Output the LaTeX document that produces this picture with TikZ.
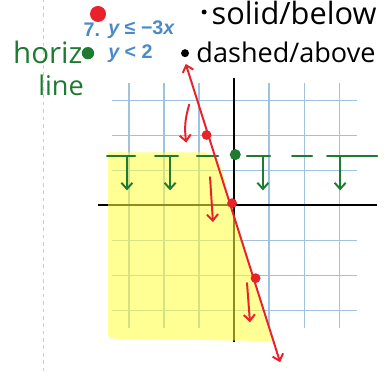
\documentclass[tikz,border=0pt]{standalone}
\usepackage{fontspec}
\setmainfont{Open Sans}
\newfontfamily\bookfont{Liberation Sans}
\usetikzlibrary{positioning, arrows.meta}
\definecolor{gridblue}{HTML}{9FC2DE}
\definecolor{bookblue}{HTML}{4A8AC6}
\definecolor{penred}{HTML}{E8212B}
\definecolor{pengreen}{HTML}{1F7A32}
\definecolor{hilite}{HTML}{FFFF3A}
\definecolor{margingray}{HTML}{CFCFCF}

\tikzset{
  pen/.style={line width=1.6pt, line cap=round, line join=round},
  barb/.style={-{Straight Barb[length=5pt,width=9pt]}},
  dotmark/.style={circle, inner sep=0pt, minimum size=#1},
  note/.style={font=\fontsize{#1}{#1}\selectfont, inner sep=0pt},
  booktext/.style={text=bookblue, font={\bookfont\fontsize{16}{16}\selectfont\bfseries}, inner sep=0pt}
}

\begin{document}
\begin{tikzpicture}[x=0.7cm, y=0.7cm]
  \useasboundingbox (-9.55,-6.78) rectangle (6.16,8.37);
  % page margin
  \draw[margingray, dashed, line width=0.6pt] (-7.8,-6.78) -- (-7.8,8.37);
  % graph paper and axes
  \draw[gridblue, line width=0.9pt] (-5,-5) grid (5,5);
  \draw[line width=1.3pt] (-5.55,0) -- (5.84,0);
  \draw[line width=1.3pt] (0,5.18) -- (0,-5.59);
  % shaded solution
  \fill[hilite, fill opacity=0.55] (-5.14,2.15) -- (-1.2,2.15)
    .. controls (-0.6,2.1) and (-0.35,1.2) .. (-0.3,0.4) -- (1.55,-5.55)
    -- (-4.9,-5.45) .. controls (-5.14,-5.42) .. (-5.14,-5.1) -- cycle;
  % y < 2
  \foreach \a/\b in {-5.18/-4.04, -3.22/-2.29, -1.51/-0.65, 0.53/1.47, 2.37/3.18, 3.80/5.84}
    \draw[pen, pengreen, line width=2pt] (\a,2) -- (\b,2);
  \foreach \u in {-4.37,-2.61,1.18,4.33}
    \draw[pen, pengreen, barb] (\u,2) -- (\u,0.6);
  \node[dotmark=9pt, fill=pengreen] (gdot) at (0.05,2.06) {};
  % y <= -3x
  \coordinate (redtop) at (-1.97,5.76);
  \coordinate (redbot) at (1.88,-6.41);
  \draw[pen, penred, {Straight Barb[length=5pt,width=9pt]}-{Straight Barb[length=5pt,width=9pt]}] (redtop) -- (redbot);
  \node[dotmark=8pt, fill=penred] (rdotA) at (-1.12,2.86) {};
  \node[dotmark=8pt, fill=penred] (rdotO) at (-0.08,0.08) {};
  \node[dotmark=8pt, fill=penred] (rdotB) at (0.88,-2.98) {};
  \coordinate (rarrA) at (-1.83,4.1);
  \coordinate (rarrAe) at (-1.95,2.55);
  \coordinate (rarrB) at (-0.98,1.14);
  \coordinate (rarrBe) at (-0.86,-0.69);
  \coordinate (rarrC) at (0.53,-3.18);
  \coordinate (rarrCe) at (0.65,-4.78);
  \draw[pen, penred, barb] (rarrA) to[bend right=12] (rarrAe);
  \draw[pen, penred, barb] (rarrB) -- (rarrBe);
  \draw[pen, penred, barb] (rarrC) -- (rarrCe);
  % exercise text
  \node[booktext, anchor=west] (num) at (-6.15,7.14) {7.};
  \node[booktext, anchor=west] (ineqA) at (-5.14,7.14) {\itshape y\upshape\ ≤ −3\itshape x};
  \node[booktext, anchor=west] (ineqB) at (-5.14,6.2) {\itshape y\upshape\ < 2};
  \node[dotmark=13pt, fill=penred] (rmark) at (-5.55,7.8) {};
  \node[dotmark=10pt, fill=pengreen] (gmark) at (-5.96,6.2) {};
  % notes
  \node[note=24, text=pengreen] (horiz) at (-7.6,6.24) {horiz};
  \node[note=22, text=pengreen] (line) at (-7.06,4.9) {line};
  \node[dotmark=4pt, fill=black] (bdotA) at (-1.22,7.88) {};
  \node[note=25] (solid) at (2.45,7.84) {solid/below};
  \node[dotmark=6.5pt, fill=black] (bdotB) at (-2,6.2) {};
  \node[note=22] (dashed) at (2.12,6.24) {dashed/above};
\end{tikzpicture}
\end{document}
